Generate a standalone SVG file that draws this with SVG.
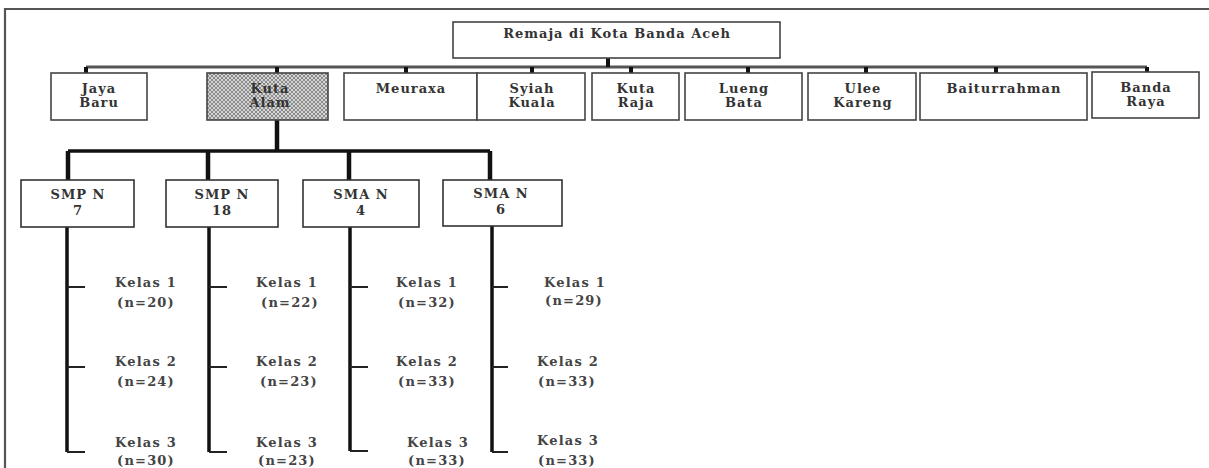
<svg xmlns="http://www.w3.org/2000/svg" width="1209" height="468" viewBox="0 0 1209 468">
<defs>
<pattern id="hatch" width="4" height="4" patternUnits="userSpaceOnUse">
<rect width="4" height="4" fill="#d4d4d4"/>
<path d="M0,0 L4,4 M4,0 L0,4" stroke="#7a7a7a" stroke-width="0.8"/>
</pattern>
<style>
.box{fill:#fff;stroke:#444;stroke-width:1.6}
.sbox{fill:#fff;stroke:#333;stroke-width:1.6}
.t{font-family:"DejaVu Serif","Liberation Serif",serif;font-size:13px;font-weight:bold;fill:#333;text-anchor:middle;letter-spacing:1px}
.k{font-family:"DejaVu Serif","Liberation Serif",serif;font-size:13px;font-weight:bold;fill:#444;text-anchor:middle;letter-spacing:1.2px}
.bar{stroke:#555;stroke-width:3;fill:none}
.tick{fill:#111}
.thick{stroke:#111;stroke-width:4.5;fill:none}
.vert{stroke:#111;stroke-width:3.5;fill:none}
.br{stroke:#222;stroke-width:2;fill:none}
</style>
</defs>
<rect width="1209" height="468" fill="#fff"/>
<path d="M5,468 L5,9 L1209,9" fill="none" stroke="#555" stroke-width="2.2"/>

<g id="connectors">
<path class="bar" d="M86,67 L1147,67"/>
<rect class="tick" x="606" y="58" width="4" height="9"/>
<rect class="tick" x="84" y="67" width="4" height="6"/>
<rect class="tick" x="275" y="67" width="4" height="6"/>
<rect class="tick" x="404" y="67" width="4" height="6"/>
<rect class="tick" x="530" y="67" width="4" height="6"/>
<rect class="tick" x="629" y="67" width="4" height="6"/>
<rect class="tick" x="746" y="67" width="4" height="6"/>
<rect class="tick" x="864" y="67" width="4" height="6"/>
<rect class="tick" x="994" y="67" width="4" height="6"/>
<rect class="tick" x="1145" y="67" width="4" height="6"/>
<path class="thick" d="M277,120 L277,151"/>
<path class="bar" d="M68,151 L490,151" style="stroke:#111;stroke-width:3.5"/>
<path class="thick" d="M68,151 L68,180 M208,151 L208,180 M349,151 L349,180 M490,151 L490,180"/>
<path class="vert" d="M67,227 L67,452 M209,227 L209,452 M350,227 L350,451 M492,226 L492,452"/>
<path class="br" d="M67,287 L85,287 M67,367 L85,367 M67,452 L85,452"/>
<path class="br" d="M209,287 L227,287 M209,367 L227,367 M209,452 L227,452"/>
<path class="br" d="M350,287 L368,287 M350,367 L368,367 M350,451 L368,451"/>
<path class="br" d="M492,287 L508,287 M492,367 L508,367 M492,452 L508,452"/>
</g>

<g id="root">
<rect class="box" x="453" y="22" width="327" height="36"/>
<text class="t" x="617" y="38">Remaja di Kota Banda Aceh</text>
</g>

<g id="jaya-baru">
<rect class="box" x="51" y="73" width="96" height="47"/>
<text class="t" x="99" y="93">Jaya</text><text class="t" x="99" y="107">Baru</text>
</g>
<g id="kuta-alam">
<rect x="207" y="73" width="121" height="47" fill="url(#hatch)" stroke="#444" stroke-width="1.6"/>
<text class="t" x="270" y="93">Kuta</text><text class="t" x="270" y="107">Alam</text>
</g>
<g id="meuraxa">
<rect class="box" x="344" y="73" width="133" height="47"/>
<text class="t" x="411" y="93">Meuraxa</text>
</g>
<g id="syiah-kuala">
<rect class="box" x="477" y="73" width="108" height="47"/>
<text class="t" x="532" y="93">Syiah</text><text class="t" x="532" y="107">Kuala</text>
</g>
<g id="kuta-raja">
<rect class="box" x="592" y="73" width="87" height="47"/>
<text class="t" x="636" y="93">Kuta</text><text class="t" x="636" y="107">Raja</text>
</g>
<g id="lueng-bata">
<rect class="box" x="685" y="73" width="117" height="47"/>
<text class="t" x="744" y="93">Lueng</text><text class="t" x="744" y="107">Bata</text>
</g>
<g id="ulee-kareng">
<rect class="box" x="808" y="73" width="108" height="47"/>
<text class="t" x="863" y="93">Ulee</text><text class="t" x="863" y="107">Kareng</text>
</g>
<g id="baiturrahman">
<rect class="box" x="920" y="73" width="167" height="47"/>
<text class="t" x="1004" y="93">Baiturrahman</text>
</g>
<g id="banda-raya">
<rect class="box" x="1092" y="72" width="107" height="46"/>
<text class="t" x="1146" y="92">Banda</text><text class="t" x="1146" y="106">Raya</text>
</g>

<g id="smp7">
<rect class="sbox" x="21" y="180" width="113" height="47"/>
<text class="t" x="78" y="199">SMP N</text><text class="t" x="78" y="215">7</text>
</g>
<g id="smp18">
<rect class="sbox" x="166" y="180" width="112" height="47"/>
<text class="t" x="222" y="199">SMP N</text><text class="t" x="222" y="215">18</text>
</g>
<g id="sma4">
<rect class="sbox" x="303" y="180" width="116" height="47"/>
<text class="t" x="361" y="199">SMA N</text><text class="t" x="361" y="215">4</text>
</g>
<g id="sma6">
<rect class="sbox" x="443" y="180" width="119" height="46"/>
<text class="t" x="501" y="198">SMA N</text><text class="t" x="501" y="214">6</text>
</g>

<g id="smp7-classes">
<text class="k" x="146" y="287">Kelas 1</text><text class="k" x="146" y="307">(n=20)</text>
<text class="k" x="146" y="366">Kelas 2</text><text class="k" x="146" y="386">(n=24)</text>
<text class="k" x="146" y="447">Kelas 3</text><text class="k" x="146" y="465">(n=30)</text>
</g>
<g id="smp18-classes">
<text class="k" x="287" y="287">Kelas 1</text><text class="k" x="290" y="307">(n=22)</text>
<text class="k" x="287" y="366">Kelas 2</text><text class="k" x="289" y="386">(n=23)</text>
<text class="k" x="287" y="447">Kelas 3</text><text class="k" x="287" y="465">(n=23)</text>
</g>
<g id="sma4-classes">
<text class="k" x="427" y="287">Kelas 1</text><text class="k" x="427" y="307">(n=32)</text>
<text class="k" x="427" y="366">Kelas 2</text><text class="k" x="427" y="386">(n=33)</text>
<text class="k" x="438" y="447">Kelas 3</text><text class="k" x="437" y="465">(n=33)</text>
</g>
<g id="sma6-classes">
<text class="k" x="575" y="287">Kelas 1</text><text class="k" x="574" y="305">(n=29)</text>
<text class="k" x="568" y="366">Kelas 2</text><text class="k" x="567" y="386">(n=33)</text>
<text class="k" x="568" y="445">Kelas 3</text><text class="k" x="567" y="465">(n=33)</text>
</g>
</svg>
